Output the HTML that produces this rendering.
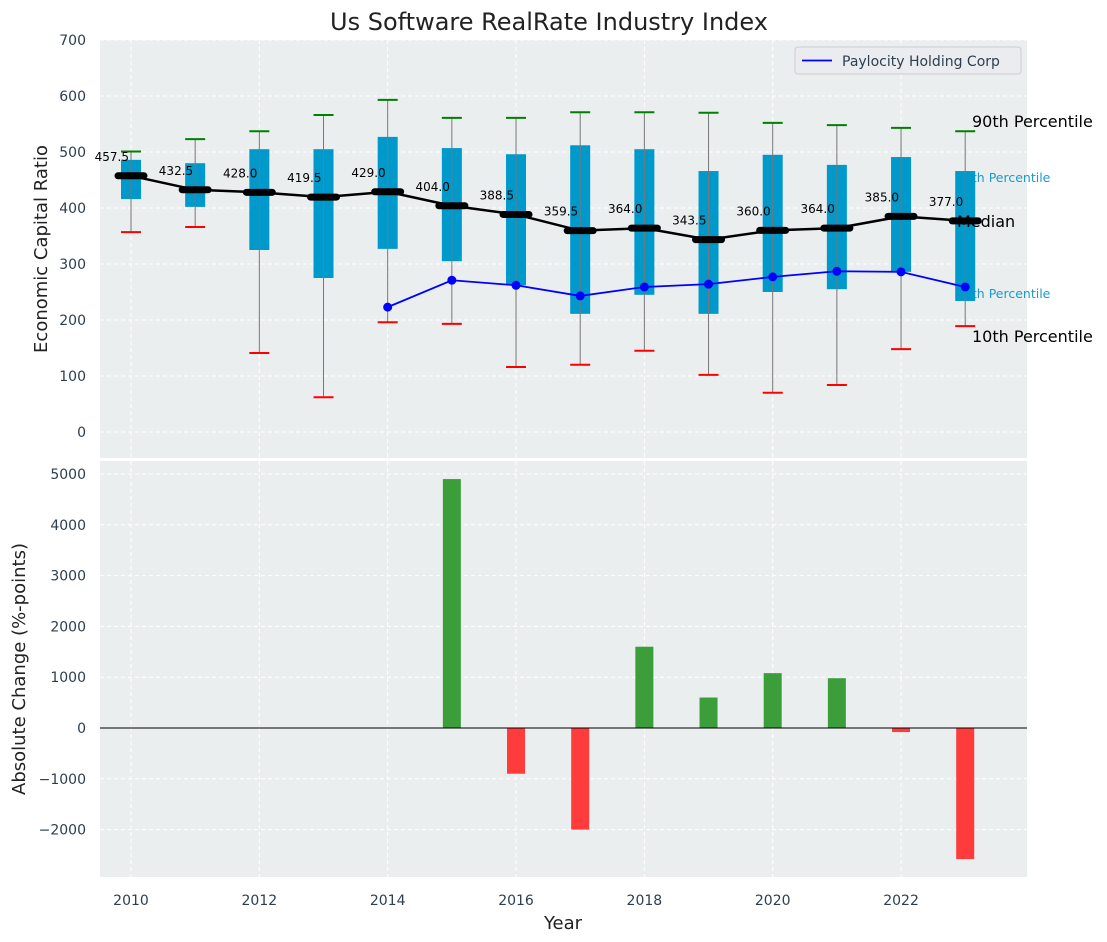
<!DOCTYPE html>
<html><head><meta charset="utf-8"><style>body{margin:0;background:#fff}svg{display:block;font-family:"DejaVu Sans","Liberation Sans",sans-serif}</style></head>
<body>
<svg id="chart" width="1107" height="942"></svg>
<script>
const years=[2010,2011,2012,2013,2014,2015,2016,2017,2018,2019,2020,2021,2022,2023];
const median=[457.5,432.5,428,419.5,429,404,388.5,359.5,364,343.5,360,364,385,377];
const p90=[501,523,537,566,593,561,561,571,571,570,552,548,543,537];
const p10=[357,366,141,62,196,193,116,120,145,102,70,84,148,189];
const p75=[486,480,505,505,527,507,496,512,505,466,495,477,491,466];
const p25=[416,402,325,275,327,305,262,211,245,211,250,255,286,234];
const payYears=[2014,2015,2016,2017,2018,2019,2020,2021,2022,2023];
const payVals=[223,271,262,243,259,264,277,287,286,259];
const chgYears=[2015,2016,2017,2018,2019,2020,2021,2022,2023];
const chgVals=[4900,-900,-2000,1600,600,1080,980,-80,-2580];
const topTicks=[0,100,200,300,400,500,600,700];
const botTicks=[-2000,-1000,0,1000,2000,3000,4000,5000];
const xTicks=[2010,2012,2014,2016,2018,2020,2022];

const svg=document.getElementById('chart');
const NS='http://www.w3.org/2000/svg';
function el(t,a,p){const e=document.createElementNS(NS,t);for(const k in a)e.setAttribute(k,a[k]);(p||svg).appendChild(e);return e;}
const X=y=>131+(y-2010)*64.17;
const Y1=v=>432-v*0.56;
const Y2=v=>728-v*0.0508;
const L=100,R=1027,T1=40,B1=458,T2=461,B2=877;

let e=el('rect',{x:L,y:T1,width:R-L,height:B1-T1,fill:'#eaeeef'});

e=el('rect',{x:L,y:T2,width:R-L,height:B2-T2,fill:'#eaeeef'});


xTicks.forEach(t=>{
  [[T1,B1],[T2,B2]].forEach(r=>{el('line',{x1:X(t),x2:X(t),y1:r[0],y2:r[1],stroke:'#fff','stroke-dasharray':'4,3','stroke-width':1});});
  e=el('text',{x:X(t),y:905,'text-anchor':'middle','font-size':14,fill:'#2d3e50'});e.textContent=t;
  
});
topTicks.forEach(t=>{
  el('line',{x1:L,x2:R,y1:Y1(t),y2:Y1(t),stroke:'#fff','stroke-dasharray':'4,3'});
  e=el('text',{x:86,y:Y1(t)+5,'text-anchor':'end','font-size':14,fill:'#2d3e50'});e.textContent=t;
  
});
botTicks.forEach(t=>{
  el('line',{x1:L,x2:R,y1:Y2(t),y2:Y2(t),stroke:'#fff','stroke-dasharray':'4,3'});
  e=el('text',{x:86,y:Y2(t)+5,'text-anchor':'end','font-size':14,fill:'#2d3e50'});e.textContent=(t<0?'\u2212'+(-t):t);
  
});

e=el('text',{x:956,y:182,'font-size':12.5,fill:'#1a9bc9'});e.textContent='75th Percentile';

e=el('text',{x:956,y:298,'font-size':12.5,fill:'#1a9bc9'});e.textContent='25th Percentile';


years.forEach((yr,i)=>{
  const x=X(yr);
  e=el('rect',{x:x-10,y:Y1(p75[i]),width:20,height:Y1(p25[i])-Y1(p75[i]),fill:'#0099cc'});
  
  el('line',{x1:x,x2:x,y1:Y1(p90[i]),y2:Y1(p10[i]),stroke:'#777','stroke-width':1});
  e=el('line',{x1:x-10,x2:x+10,y1:Y1(p90[i]),y2:Y1(p90[i]),stroke:'green','stroke-width':2});
  
  e=el('line',{x1:x-10,x2:x+10,y1:Y1(p10[i]),y2:Y1(p10[i]),stroke:'red','stroke-width':2});
  
});
e=el('polyline',{points:years.map((y,i)=>X(y)+','+Y1(median[i])).join(' '),fill:'none',stroke:'#000','stroke-width':2.5});

years.forEach((yr,i)=>{
  const x=X(yr),y=Y1(median[i]);
  e=el('line',{x1:x-13,x2:x+13,y1:y,y2:y,stroke:'#000','stroke-width':7,'stroke-linecap':'round'});
  
  e=el('text',{x:x-2,y:y-15,'text-anchor':'end','font-size':12,fill:'#000'});e.textContent=median[i].toFixed(1);
  
});
e=el('polyline',{points:payYears.map((y,i)=>X(y)+','+Y1(payVals[i])).join(' '),fill:'none',stroke:'#0000ff','stroke-width':1.8});

payYears.forEach((yr,i)=>{e=el('circle',{cx:X(yr),cy:Y1(payVals[i]),r:4.5,fill:'#0000ff'});
  });

e=el('text',{x:972,y:127,'font-size':16,fill:'#000'});e.textContent='90th Percentile';

e=el('text',{x:957,y:227,'font-size':16,fill:'#000'});e.textContent='Median';

e=el('text',{x:972,y:342,'font-size':16,fill:'#000'});e.textContent='10th Percentile';


const lg=el('g',{});
el('rect',{x:795,y:47,width:226,height:27,rx:3,fill:'#eaecef',stroke:'#ccc'},lg);
el('line',{x1:802,x2:832,y1:60.5,y2:60.5,stroke:'#0000ff','stroke-width':1.8},lg);
e=el('text',{x:842,y:66,'font-size':14,fill:'#2d3e50'},lg);e.textContent='Paylocity Holding Corp';


chgYears.forEach((yr,i)=>{
  const v=chgVals[i],y0=Y2(0),y1=Y2(v);
  e=el('rect',{x:X(yr)-9,y:Math.min(y0,y1),width:18,height:Math.abs(y1-y0),fill:v>=0?'#3b9e3b':'#ff3b3b'});
  
});
el('line',{x1:L,x2:R,y1:Y2(0),y2:Y2(0),stroke:'#000','stroke-width':1});

e=el('text',{x:549,y:30,'text-anchor':'middle','font-size':24,fill:'#222'});e.textContent='Us Software RealRate Industry Index';

e=el('text',{x:0,y:0,'text-anchor':'middle','font-size':18,fill:'#222',transform:'translate(47,249) rotate(-90)'});e.textContent='Economic Capital Ratio';

e=el('text',{x:0,y:0,'text-anchor':'middle','font-size':18,fill:'#222',transform:'translate(25,669) rotate(-90)'});e.textContent='Absolute Change (%-points)';

e=el('text',{x:563,y:929,'text-anchor':'middle','font-size':18,fill:'#222'});e.textContent='Year';

</script>
</body></html>
